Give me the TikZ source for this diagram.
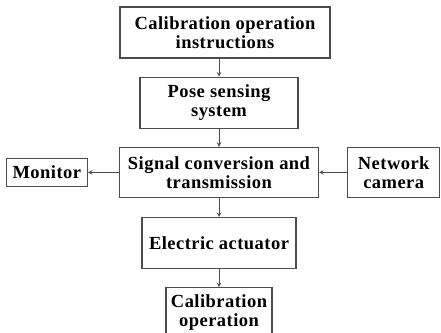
\documentclass[tikz,border=0pt]{standalone}
\usepackage{fontspec}
\newfontfamily\boxfont{Liberation Serif}[LetterSpace=2.5]
\usepackage{tikz}
\usetikzlibrary{positioning}

\tikzset{
  blk/.style={draw=black!70, line width=1.2pt, align=center, inner sep=0pt,
    font=\boxfont\bfseries\fontsize{18.5}{19}\selectfont},
}

\begin{document}
\begin{tikzpicture}[%
    x=1pt, y=1pt,
    >=stealth,
    node distance=18pt,
  ]
    \useasboundingbox (0,0) rectangle (441,-332);

    \node[blk, minimum width=210pt, minimum height=51pt] (instr) at (225,-32.5) {Calibration operation\\instructions};
    \node[blk, minimum width=158pt, minimum height=51pt] (pose) [below=of instr, xshift=-6pt] {Pose sensing\\system};
    \node[blk, minimum width=199pt, minimum height=50pt] (signal) [below=of pose] {Signal conversion and\\transmission};
    \node[blk, minimum width=81pt, minimum height=28pt] (monitor) [left=31pt of signal] {Monitor};
    \node[blk, minimum width=92pt, minimum height=50pt] (camera) [right=28pt of signal] {Network\\camera};
    \node[blk, minimum width=154pt, minimum height=51pt] (act) [below=19pt of signal] {Electric actuator};
    \node[blk, minimum width=106pt, minimum height=50pt] (calib) [below=of act] {Calibration\\operation};

    \path[->, color=black!70, line width=1pt]
    (pose |- instr.south) edge (pose)
    (pose) edge (signal)
    (signal) edge (monitor)
    (camera) edge (signal)
    (signal) edge (act)
    (act) edge (calib)
    ;
  \end{tikzpicture}
\end{document}
